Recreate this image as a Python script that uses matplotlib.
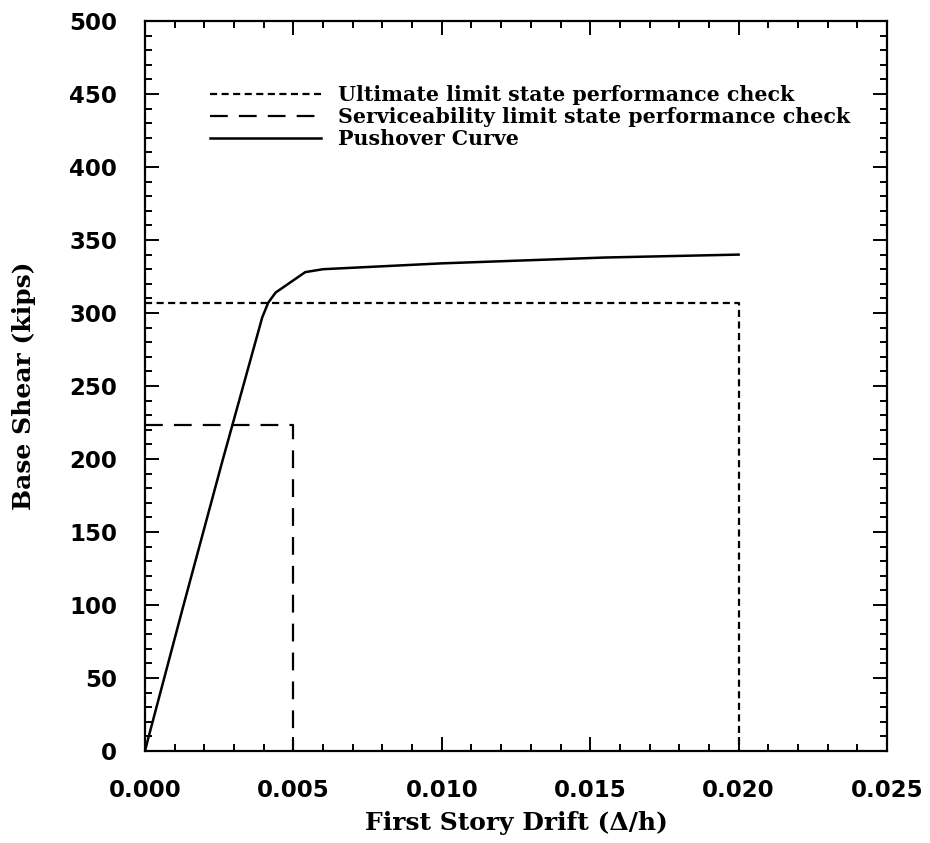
#!/usr/bin/env python3
"""Pushover curve with serviceability / ultimate performance checks"""

import matplotlib
matplotlib.use("Agg")
import matplotlib.pyplot as plt
from matplotlib.ticker import MultipleLocator

# pushover curve
drift = [0.0, 0.0001, 0.0013, 0.0026, 0.00395, 0.00415, 0.0044, 0.0049, 0.0054, 0.0060, 0.0100, 0.0155, 0.0200]
shear = [0.0, 8, 100, 198, 297, 307, 314, 321, 328, 330, 334, 338, 340]

# performance check boxes (drift limit, shear level)
ult_drift, ult_shear = 0.020, 307
svc_drift, svc_shear = 0.005, 223

labels = ["Ultimate limit state performance check",
          "Serviceability limit state performance check",
          "Pushover Curve"]

serif = {"family": "DejaVu Serif", "weight": "bold"}

fig = plt.figure(figsize=(9.3, 8.43), dpi=100)
ax = fig.add_axes([145 / 930, 92 / 843, 742 / 930, 730 / 843])

ax.plot([0, ult_drift, ult_drift], [ult_shear, ult_shear, 0], color="black",
        lw=1.6, dashes=(3.2, 2.0), label=labels[0])
ax.plot([0, svc_drift, svc_drift], [svc_shear, svc_shear, 0], color="black",
        lw=1.6, dashes=(8.0, 5.0), label=labels[1])
ax.plot(drift, shear, color="black", lw=1.8, label=labels[2])

ax.set_xlim(0, 0.025)
ax.set_ylim(0, 500)
ax.xaxis.set_major_locator(MultipleLocator(0.005))
ax.xaxis.set_minor_locator(MultipleLocator(0.001))
ax.yaxis.set_major_locator(MultipleLocator(50))
ax.yaxis.set_minor_locator(MultipleLocator(10))
ax.xaxis.set_major_formatter(lambda v, p: f"{v:.3f}")

ax.tick_params(which="both", direction="in", top=True, right=True, width=1.4,
               labelsize=16.5, pad=20)
ax.tick_params(which="major", length=10)
ax.tick_params(which="minor", length=5)
for lab in ax.get_xticklabels() + ax.get_yticklabels():
    lab.set_fontweight("bold")
for s in ax.spines.values():
    s.set_linewidth(1.6)

ax.set_xlabel("First Story Drift (\u0394/h)", fontsize=18, va="center", **serif)
ax.set_ylabel("Base Shear (kips)", fontsize=18, va="center", **serif)
ax.xaxis.set_label_coords(0.5, -0.099)
ax.yaxis.set_label_coords(-0.163, 0.5)

ax.legend(loc="upper left", bbox_to_anchor=(0.0876, 0.912), frameon=False,
          borderpad=0, borderaxespad=0, handlelength=5.4, handletextpad=0.82,
          labelspacing=0.1, prop={"family": "DejaVu Serif", "weight": "bold", "size": 14.8})

fig.savefig("out.png", dpi=100)
